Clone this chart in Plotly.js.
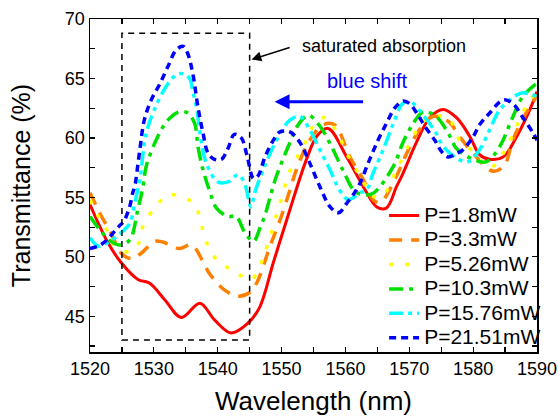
<!DOCTYPE html>
<html>
<head>
<meta charset="utf-8">
<script src="https://cdn.plot.ly/plotly-3.0.1.min.js"></script>
<style>html,body{margin:0;padding:0;background:#fff;}#chart{width:558px;height:416px;}</style>
</head>
<body>
<div id="chart"></div>
<script>
// Wavelength (nm) and transmittance (%) for each pump power
const names = ["P=1.8mW","P=3.3mW","P=5.26mW","P=10.3mW","P=15.76mW","P=21.51mW"];

const redX = [1520,1522.8,1524.9,1527.5,1529.3,1531.7,1534.3,1537.2,1539.5,1542.1,1544.7,1546.6,1548.7,1550.8,1553.9,1555.6,1557.3,1560.2,1562.8,1564.9,1566.4,1568,1569,1571.1,1573.2,1575.3,1577.4,1579.5,1581,1582.6,1584.7,1586.8,1588.9,1590];
const redY = [54.4,51.2,49.5,48.1,47.8,46.4,44.9,46.1,44.7,43.6,44.4,45.8,49.5,53.1,58.2,60.2,60.8,58.4,55.9,54.2,54.1,55.9,57.0,59.6,61.7,62.4,61.7,60.1,58.6,58.2,58.4,60.1,62.4,63.9];

const orangeX = [1520,1521.8,1523.3,1524.9,1526.5,1528,1530.1,1531.4,1534,1535.9,1537.7,1538.7,1541.1,1543.2,1545,1546.1,1548.2,1549.7,1551.3,1552.3,1554.4,1556.5,1558.3,1560.7,1562.8,1564.3,1565.5,1568,1569.6,1571.6,1573.7,1576.1,1577.9,1580,1583.1,1584.9,1586.2,1588.3,1590];
const orangeY = [55.4,53.4,52.0,50.3,49.85,50.3,51.3,51.25,50.7,51.0,49.6,48.6,47.2,46.7,47.0,47.8,50.9,53.0,55.6,57.3,59.8,61.1,61.1,58.4,56.5,54.8,54.6,56.8,58.7,60.7,61.8,61.4,60.1,58.7,57.2,57.7,59.8,62.1,63.5];

const yellowX = [1520,1521.3,1522.6,1523.5,1524.9,1526.5,1527.5,1528.3,1530.1,1532.2,1534,1536.4,1537.4,1538.2,1539.8,1542.4,1544,1545.3,1546.9,1547.9,1549.6,1551.3,1553.4,1555.5,1557,1559.1,1560.7,1562.3,1564.3,1565.8,1568,1570.3,1572.2,1574,1576.1,1577.9,1579.7,1582.6,1584.7,1586.8,1588.9,1590];
const yellowY = [54.8,53.4,52.3,51.2,50.5,50.5,51.0,52.6,54.1,55.2,55.1,54.4,52.8,51.3,49.8,48.8,48.3,48.1,49.6,51.2,54.2,57.2,59.3,61.4,61.7,60.0,58.2,56.8,55.1,55.1,57.3,59.8,61.4,61.8,61.7,59.8,59.0,57.5,58.7,61.0,63.2,63.8];

const greenX = [1520,1521.8,1523.3,1524.6,1526.2,1527.5,1528.3,1528.8,1530.6,1532.2,1534,1535.3,1536.4,1536.9,1537.7,1538.7,1539.8,1541.6,1542.9,1544.2,1545.6,1546.6,1547.4,1548.4,1549.2,1551.3,1552.6,1554.2,1556,1557.8,1559.6,1561.5,1563.3,1564.5,1567.5,1569,1570.6,1572.2,1574.2,1576.1,1577.4,1580,1582.1,1584.2,1586,1587.8,1590];
const greenY = [53.4,52.1,51.3,51.0,51.4,54.0,55.9,57.6,60.1,61.5,62.2,62.1,61.2,59.3,57.3,55.6,54.1,53.4,53.4,52.1,51.3,52.4,53.5,55.4,56.8,59.6,61.1,61.9,61.0,59.3,57.3,55.5,55.2,55.4,57.6,59.6,61.2,62.2,61.8,60.4,59.1,58.2,58.0,59.3,61.5,63.5,64.6];

const cyanX = [1520,1521.3,1522.8,1524.6,1526.2,1527,1527.8,1528.8,1530.1,1531.9,1533.5,1534.6,1535.6,1536.1,1536.7,1537.4,1538.2,1540,1541.6,1543.2,1544.2,1545.2,1545.8,1547.1,1549.2,1551.3,1552.9,1554.4,1556,1557.6,1559.1,1560.5,1562.3,1563.3,1564.3,1565.9,1567.5,1569,1570.3,1572.2,1574.2,1575.3,1577.4,1579.2,1581,1582.6,1584.2,1586.8,1587.8,1590];
const cyanY = [51.6,50.9,51.2,51.9,52.8,54.5,56.5,60.4,62.4,64.3,65.3,65.4,65.0,63.9,62.5,59.8,57.9,56.3,56.3,56.9,56.2,54.2,55.4,57.3,59.8,61.5,61.8,60.7,59.0,57.3,55.6,54.8,55.4,55.6,57.0,59.0,61.2,62.9,63.0,61.9,60.4,59.3,58.3,58.0,59.0,60.7,62.4,63.6,63.8,63.5];

const blueX = [1520,1521.3,1522.6,1523.6,1524.6,1525.3,1526.2,1526.7,1527,1527.8,1528.5,1529.6,1530.9,1532.2,1533.5,1534.6,1535.3,1536.1,1536.9,1537.7,1538.5,1539.5,1540.6,1541.6,1542.6,1543.7,1544.6,1545.6,1546.3,1547.4,1548.7,1549.7,1551.3,1552.9,1554.4,1556,1557.6,1558.9,1560.2,1562,1563.8,1565.1,1566.4,1567.7,1569,1570,1571.4,1572.4,1574,1575,1576.1,1577.4,1578.4,1580,1581,1582.6,1584.7,1586.2,1587.8,1589.4,1590];
const blueY = [50.7,50.9,51.4,52.0,52.6,53.0,54.2,55.4,55.9,59.0,61.5,63.2,64.5,66.0,67.4,67.7,67.1,65.4,62.6,60.4,58.7,58.2,58.2,59.1,60.3,60.0,58.5,56.6,56.8,58.4,59.8,60.5,60.5,59.6,57.9,55.9,54.2,53.7,54.5,55.9,58.2,59.8,61.2,62.5,63.1,62.9,61.9,61.0,59.8,58.9,58.4,58.7,59.0,60.1,61.1,62.1,63.2,62.9,61.7,60.4,59.8];

const xTickVals = [1520,1530,1540,1550,1560,1570,1580,1590];
const yTickVals = [45,50,55,60,65,70];

const seriesX = [redX, orangeX, yellowX, greenX, cyanX, blueX];
const seriesY = [redY, orangeY, yellowY, greenY, cyanY, blueY];
const colors = ["#ff0000","#ff8000","#ffff00","#00e000","#00ffff","#0000ff"];
const dashes = ["solid","13px,9px","4px,12px","14px,6px,4px,6px","14px,5px,4px,5px,4px,5px","7px,5px"];
const widths = [3,3.5,3.5,3.5,3.5,3.5];

const FONT = "Arial, 'Liberation Sans', sans-serif";

const traces = seriesX.map((xs, i) => ({
  x: xs, y: seriesY[i], type: "scatter", mode: "lines",
  name: '<span style="font-size:21px">' + names[i] + '</span>',
  line: {color: colors[i], width: widths[i], dash: dashes[i], shape: "spline", smoothing: 1}
}));

const axisCommon = {
  showline: true, linecolor: "#000", linewidth: 1.5, mirror: "allticks",
  ticks: "inside", ticklen: 5, tickwidth: 1.2, tickcolor: "#000",
  showgrid: false, zeroline: false,
  tickfont: {family: FONT, size: 18, color: "#000"}
};

const layout = {
  width: 558, height: 416,
  margin: {l: 90, r: 21, t: 19, b: 64},
  paper_bgcolor: "#fff", plot_bgcolor: "#fff",
  showlegend: true,
  legend: {x: 0.658, y: -0.01, xanchor: "left", yanchor: "bottom", bgcolor: "rgba(0,0,0,0)",
           font: {family: FONT, size: 16.5, color: "#000"}, tracegroupgap: 0},
  xaxis: Object.assign({}, axisCommon, {
    range: [1520, 1590], tickvals: xTickVals, ticktext: xTickVals.map(String),
    minor: {dtick: 5, ticks: "inside", ticklen: 5, tickwidth: 1.2, tickcolor: "#000"},
    title: {text: "Wavelength (nm)", font: {family: FONT, size: 26, color: "#000"}, standoff: 14}
  }),
  yaxis: Object.assign({}, axisCommon, {
    range: [42, 70], tickvals: yTickVals, ticktext: yTickVals.map(String),
    minor: {dtick: 2.5, ticks: "inside", ticklen: 5, tickwidth: 1.2, tickcolor: "#000"},
    title: {text: "Transmittance (%)", font: {family: FONT, size: 25, color: "#000"}, standoff: 27}
  }),
  shapes: [
    {type: "rect", xref: "x", yref: "y", x0: 1525, x1: 1545, y0: 43, y1: 68.8,
     line: {color: "#000", width: 1.5, dash: "6px,5px"}}
  ],
  annotations: [
    {x: 1545.3, y: 66.6, xref: "x", yref: "y", ax: 1551.5, ay: 67.65, axref: "x", ayref: "y",
     text: "", showarrow: true, arrowhead: 2, arrowsize: 1.3, arrowwidth: 1.5, arrowcolor: "#000"},
    {x: 1566.0, y: 67.7, xref: "x", yref: "y", text: "saturated absorption", showarrow: false,
     font: {family: FONT, size: 18, color: "#000"}},
    {x: 1548.9, y: 63.05, xref: "x", yref: "y", ax: 1563.0, ay: 63.05, axref: "x", ayref: "y",
     text: "", showarrow: true, arrowhead: 2, arrowsize: 1, arrowwidth: 3, arrowcolor: "#0000ff"},
    {x: 1563.3, y: 64.8, xref: "x", yref: "y", text: "blue shift", showarrow: false,
     font: {family: FONT, size: 20, color: "#0000ff"}}
  ]
};

Plotly.newPlot("chart", traces, layout, {staticPlot: true, displayModeBar: false});
</script>
</body>
</html>
